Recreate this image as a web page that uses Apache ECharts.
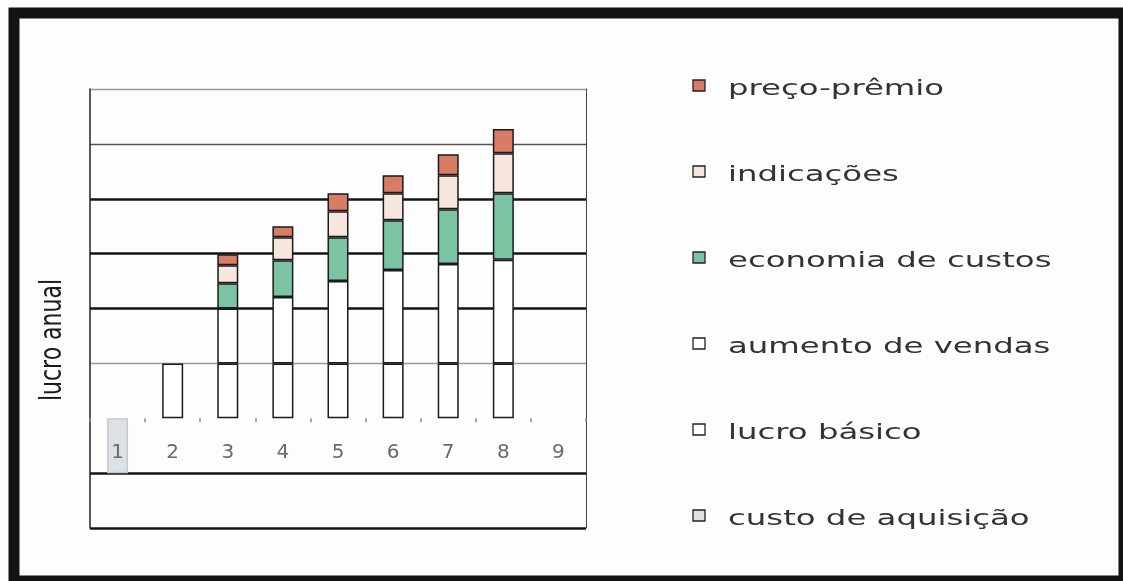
<!DOCTYPE html>
<html>
<head>
<meta charset="utf-8">
<script src="https://cdn.jsdelivr.net/npm/echarts@6/dist/echarts.min.js"></script>
<style>
  html, body { margin: 0; padding: 0; background: #fdfdfd; }
  #chart { width: 1123px; height: 581px; }
</style>
</head>
<body>
<div id="chart"></div>
<script>
// Anos do ciclo de vida do cliente
const categories = ['1', '2', '3', '4', '5', '6', '7', '8', '9'];

// Componentes do lucro anual por ano (empilhados de baixo para cima)
const custoAquisicao = [-1, null, null, null, null, null, null, null, null];
const lucroBasico    = [null, 1, 1, 1, 1, 1, 1, 1, null];
const aumentoVendas  = [null, null, 1.0, 1.21, 1.5, 1.7, 1.81, 1.89, null];
const economiaCustos = [null, null, 0.46, 0.67, 0.8, 0.91, 1.0, 1.21, null];
const indicacoes     = [null, null, 0.33, 0.42, 0.47, 0.49, 0.62, 0.73, null];
const precoPremio    = [null, null, 0.2, 0.2, 0.33, 0.33, 0.38, 0.44, null];

const seriesNames = ['custo de aquisição', 'lucro básico', 'aumento de vendas',
                     'economia de custos', 'indicações', 'preço-prêmio'];
const seriesData = [custoAquisicao, lucroBasico, aumentoVendas,
                    economiaCustos, indicacoes, precoPremio];
const seriesColors = ['#dde2e6', '#ffffff', '#ffffff', '#7cc3a3', '#f6e6de', '#d97c66'];
const seriesBorders = ['#c4c9cd', '#1a1a1a', '#1a1a1a', '#1a1a1a', '#1a1a1a', '#1a1a1a'];

// Escala do eixo de valores
const valueMin = -2;
const valueMax = 6;
const valueStep = 1;

const chart = echarts.init(document.getElementById('chart'), null, { renderer: 'canvas' });

// Grade: altura útil e deslocamento do eixo de categorias até o zero
const gridTop = 89, gridBottom = 53, chartHeight = 581;
const plotHeight = chartHeight - gridTop - gridBottom;
const zeroOffset = -plotHeight * (0 - valueMin) / (valueMax - valueMin);

const bars = seriesNames.map((name, i) => ({
  name: name,
  type: 'bar',
  stack: 'lucro',
  yAxisIndex: 0,
  barWidth: 21,
  data: seriesData[i],
  itemStyle: { color: seriesColors[i], borderColor: seriesBorders[i], borderWidth: 1.5 },
  emphasis: { disabled: true },
  z: 2
}));

// Legenda desenhada à direita, do topo da pilha para a base
const legendItems = [];
seriesNames.slice().reverse().forEach((name, k) => {
  const i = seriesNames.length - 1 - k;
  const yc = 88 + k * 86;
  legendItems.push({
    type: 'rect',
    shape: { x: 693, y: yc - 8, width: 12, height: 11 },
    style: { fill: seriesColors[i], stroke: '#222', lineWidth: 1.3 }
  });
  legendItems.push({
    type: 'text',
    x: 728, y: yc + 1,
    scaleX: 1.47,
    style: {
      text: name,
      font: '22px "DejaVu Sans"',
      fill: '#333',
      align: 'left', textAlign: 'left',
      verticalAlign: 'middle', textVerticalAlign: 'middle'
    }
  });
});

const transparent = 'rgba(0,0,0,0)';

const option = {
  backgroundColor: '#fdfdfd',
  animation: false,
  grid: { left: 90, right: 537, top: gridTop, bottom: gridBottom, containLabel: false },
  xAxis: {
    type: 'category',
    data: categories,
    z: 10,
    position: 'bottom',
    offset: zeroOffset,
    axisLine: { show: true, onZero: false, lineStyle: { color: transparent } },
    axisTick: { show: true, length: 4, lineStyle: { color: '#8a8a8a', width: 1.5 } },
    axisLabel: {
      margin: 25,
      fontSize: 20,
      fontFamily: 'DejaVu Sans',
      color: '#6a6a6a'
    },
    splitLine: { show: false }
  },
  yAxis: [
    {
      type: 'value',
      min: valueMin, max: valueMax, interval: valueStep,
      position: 'left',
      axisLine: { show: true, onZero: false, lineStyle: { color: '#222', width: 1.5 } },
      axisTick: { show: false },
      axisLabel: { show: false },
      splitLine: {
        show: true,
        lineStyle: {
          width: 2.6,
          color: ['#141414', '#141414', transparent, transparent,
                  '#141414', '#141414', '#141414', transparent, transparent]
        }
      }
    },
    {
      type: 'value',
      min: valueMin, max: valueMax, interval: valueStep,
      position: 'right',
      axisLine: { show: true, onZero: false, lineStyle: { color: '#444', width: 1 } },
      axisTick: { show: false },
      axisLabel: { show: false },
      splitLine: {
        show: true,
        lineStyle: {
          width: 1.3,
          color: [transparent, transparent, transparent, '#9a9a9a',
                  transparent, transparent, transparent, '#555', '#9a9a9a']
        }
      }
    }
  ],
  series: bars,
  graphic: [
    {
      type: 'rect',
      z: 100,
      shape: { x: 14, y: 13, width: 1110, height: 568 },
      style: { fill: 'none', stroke: '#131316', lineWidth: 11 }
    },
    {
      type: 'text',
      x: 53, y: 340,
      rotation: Math.PI / 2,
      scaleY: 1.35,
      style: {
        text: 'lucro anual',
        font: '22px "DejaVu Sans"',
        fill: '#1a1a1a',
        align: 'center', textAlign: 'center',
        verticalAlign: 'middle', textVerticalAlign: 'middle'
      }
    },
    {
      type: 'group',
      children: legendItems
    }
  ]
};

chart.setOption(option);
</script>
</body>
</html>
